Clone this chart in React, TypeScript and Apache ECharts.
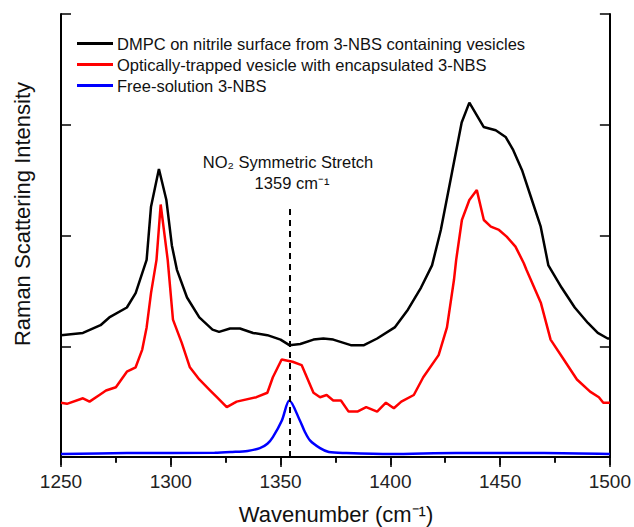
import React, { useEffect, useRef } from "react";
import * as echarts from "echarts";

const seriesNames = [
  "DMPC on nitrile surface from 3-NBS containing vesicles",
  "Optically-trapped vesicle with encapsulated 3-NBS",
  "Free-solution 3-NBS",
];

const blackData: [number, number][] = [
  [1250, 1.1], [1260, 1.12], [1268, 1.19], [1272, 1.26], [1280, 1.35], [1284, 1.48],
  [1287, 1.66], [1289, 1.78], [1291, 2.26], [1294.6, 2.6], [1298, 2.32], [1300.5, 1.91],
  [1302.8, 1.69], [1307.4, 1.44], [1313, 1.26], [1319, 1.15], [1322, 1.13], [1327, 1.16],
  [1331.5, 1.16], [1337.5, 1.12], [1344, 1.1], [1350, 1.06], [1354, 1.01], [1359, 1.02],
  [1365, 1.06], [1369.5, 1.07], [1374, 1.06], [1382, 1.01], [1388, 1.01], [1394, 1.07],
  [1402, 1.17], [1408, 1.33], [1414, 1.53], [1419, 1.73], [1423, 2.05], [1428, 2.56],
  [1432.5, 3.02], [1436, 3.2], [1442.5, 2.98], [1448, 2.95], [1452.5, 2.89], [1456, 2.77],
  [1460, 2.59], [1464, 2.35], [1468.5, 2.08], [1472, 1.73], [1478, 1.53], [1484, 1.35],
  [1490, 1.21], [1494.5, 1.12], [1499, 1.07], [1500, 1.07],
];

const redData: [number, number][] = [
  [1250, 0.49], [1252.7, 0.48], [1260, 0.53], [1263, 0.5], [1267.5, 0.56], [1270.5, 0.6],
  [1275, 0.63], [1280, 0.77], [1284, 0.81], [1287, 0.97], [1289, 1.17], [1291, 1.48],
  [1293.5, 1.78], [1295.4, 2.28], [1298.6, 1.78], [1301, 1.24], [1305, 1.03], [1308.7, 0.81],
  [1313, 0.7], [1318, 0.6], [1321, 0.54], [1325.5, 0.45], [1330, 0.5], [1339, 0.54],
  [1344, 0.58], [1346.5, 0.72], [1350.5, 0.88], [1355.5, 0.86], [1359.6, 0.83], [1365, 0.58],
  [1368, 0.54], [1371, 0.56], [1374, 0.51], [1377.5, 0.51], [1381, 0.41], [1385, 0.41],
  [1389, 0.45], [1394, 0.41], [1398, 0.49], [1401.6, 0.44], [1405, 0.5], [1410.7, 0.56],
  [1415, 0.72], [1422, 0.92], [1425.8, 1.17], [1429, 1.6], [1430, 1.78], [1432.6, 2.14],
  [1436, 2.32], [1439.4, 2.41], [1442.6, 2.14], [1445.8, 2.08], [1449.5, 2.05], [1453, 1.99],
  [1457, 1.9], [1460.8, 1.75], [1462, 1.69], [1468.6, 1.39], [1473, 1.06], [1479, 0.88],
  [1485, 0.7], [1491, 0.59], [1495, 0.54], [1497, 0.49], [1500, 0.49],
];

const blueData: [number, number][] = [
  [1250, 0.027], [1280, 0.036], [1320, 0.038], [1328, 0.045], [1335, 0.055], [1340.6, 0.08],
  [1344, 0.12], [1346.5, 0.18], [1350.6, 0.33], [1354, 0.51], [1358.8, 0.33], [1361, 0.23],
  [1363.4, 0.15], [1368, 0.08], [1372, 0.045], [1380, 0.036], [1400, 0.027], [1430, 0.036],
  [1450, 0.036], [1470, 0.036], [1500, 0.027],
];

const peakMarker = 1354;
const peakMarkerTop = 2.27;
const annotationLines = ["NO\u2082 Symmetric Stretch", "1359 cm\u207B\u00B9"];
const xAxisTitle = "Wavenumber (cm\u207B\u00B9)";
const yAxisTitle = "Raman Scattering Intensity";

const FONT = "'Liberation Sans', Arial, sans-serif";

export default function App() {
  const ref = useRef<HTMLDivElement>(null);
  useEffect(() => {
    document.body.style.margin = "0";
    if (!ref.current) return;
    const chart = echarts.init(ref.current, undefined, { renderer: "svg" });
    const axisLine = { show: true, lineStyle: { color: "#000", width: 2 } };
    chart.setOption({
      animation: false,
      textStyle: { fontFamily: FONT },
      grid: { left: 61, right: 24, top: 14, bottom: 70 },
      legend: {
        orient: "vertical",
        left: 77,
        top: 35,
        padding: 0,
        icon: "rect",
        itemWidth: 36,
        itemHeight: 3,
        itemGap: 4,
        textStyle: { fontSize: 16.5, color: "#111", fontFamily: FONT, padding: [0, 0, 0, -1] },
        data: seriesNames,
      },
      xAxis: [
        {
          type: "value",
          min: 1250,
          max: 1500,
          interval: 50,
          position: "bottom",
          axisLine,
          axisTick: { show: true, inside: false, length: 8, lineStyle: { color: "#000", width: 1.5 } },
          minorTick: { show: true, splitNumber: 2, length: 5, lineStyle: { color: "#000", width: 1.5 } },
          axisLabel: {
            fontSize: 19,
            color: "#222",
            margin: 15,
            fontFamily: FONT,
            formatter: (v: number) => String(v),
          },
          splitLine: { show: false },
          minorSplitLine: { show: false },
        },
        {
          type: "value",
          min: 1250,
          max: 1500,
          interval: 50,
          position: "top",
          axisLine,
          axisTick: { show: true, inside: true, length: 10, lineStyle: { color: "#000", width: 1.5 } },
          minorTick: { show: true, splitNumber: 2, length: 6, lineStyle: { color: "#000", width: 1.5 } },
          axisLabel: { show: false },
          splitLine: { show: false },
        },
      ],
      yAxis: [
        {
          type: "value",
          min: 0,
          max: 4,
          interval: 1,
          position: "left",
          axisLine,
          axisTick: { show: true, inside: true, length: 10, lineStyle: { color: "#000", width: 1.5 } },
          axisLabel: { show: false },
          splitLine: { show: false },
        },
        {
          type: "value",
          min: 0,
          max: 4,
          interval: 1,
          position: "right",
          axisLine,
          axisTick: { show: true, inside: true, length: 10, lineStyle: { color: "#000", width: 1.5 } },
          axisLabel: { show: false },
          splitLine: { show: false },
        },
      ],
      series: [
        {
          name: seriesNames[0],
          type: "line",
          data: blackData,
          showSymbol: false,
          symbol: "none",
          lineStyle: { color: "#000", width: 2.5 },
          itemStyle: { color: "#000" },
        },
        {
          name: seriesNames[1],
          type: "line",
          data: redData,
          showSymbol: false,
          symbol: "none",
          lineStyle: { color: "#ff0000", width: 2.5 },
          itemStyle: { color: "#ff0000" },
        },
        {
          name: seriesNames[2],
          type: "line",
          data: blueData,
          showSymbol: false,
          symbol: "none",
          smooth: 0.3,
          lineStyle: { color: "#0000ff", width: 2.5 },
          itemStyle: { color: "#0000ff" },
          markLine: {
            silent: true,
            symbol: "none",
            label: { show: false },
            lineStyle: { color: "#000", width: 2, type: [6, 5] },
            data: [[{ coord: [peakMarker, 0] }, { coord: [peakMarker, peakMarkerTop] }]],
          },
        },
      ],
      graphic: [
        {
          type: "text",
          x: 288,
          y: 162,
          style: {
            text: annotationLines[0],
            fill: "#111",
            font: `16.5px ${FONT}`,
            textAlign: "center",
            textVerticalAlign: "middle",
          },
        },
        {
          type: "text",
          x: 292,
          y: 183,
          style: {
            text: annotationLines[1],
            fill: "#111",
            font: `16.5px ${FONT}`,
            textAlign: "center",
            textVerticalAlign: "middle",
          },
        },
        {
          type: "text",
          x: 336,
          y: 514,
          style: {
            text: xAxisTitle,
            fill: "#111",
            font: `22px ${FONT}`,
            textAlign: "center",
            textVerticalAlign: "middle",
          },
        },
        {
          type: "text",
          x: 22,
          y: 214,
          rotation: Math.PI / 2,
          style: {
            text: yAxisTitle,
            fill: "#111",
            font: `22px ${FONT}`,
            textAlign: "center",
            textVerticalAlign: "middle",
          },
        },
      ],
    });
    return () => chart.dispose();
  }, []);
  return <div ref={ref} style={{ width: 634, height: 527 }} />;
}
